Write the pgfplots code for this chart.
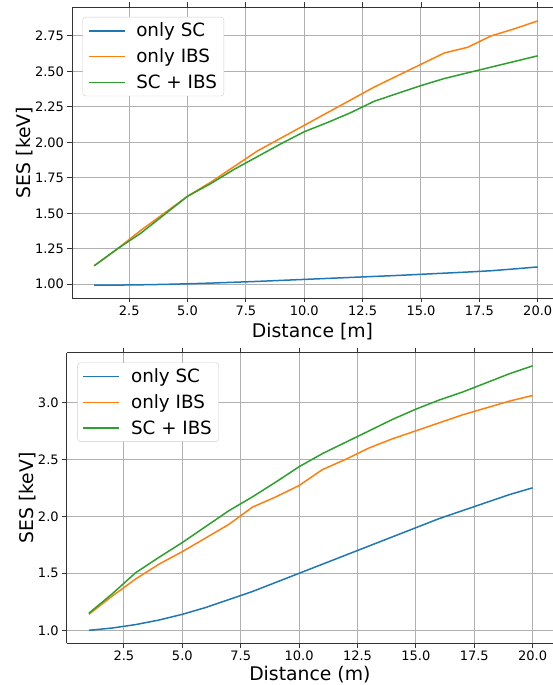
\documentclass[border=0pt]{standalone}
\usepackage{pgfplots}
\pgfplotsset{compat=1.18}
\usepackage{fontspec}
\setmainfont{DejaVu Sans}
\definecolor{tabblue}{HTML}{1F77B4}
\definecolor{taborange}{HTML}{FF7F0E}
\definecolor{tabgreen}{HTML}{2CA02C}
\definecolor{gridgray}{HTML}{B0B0B0}

\pgfplotsset{
  mystyle/.style={
    scale only axis,
    axis x line*=box, axis y line*=left,
    axis line style={black!80, line width=0.9pt},
    tick align=outside,
    major tick length=4.5pt,
    tick style={black!80, line width=0.9pt},
    grid=major,
    grid style={gridgray, line width=1.0pt},
    /pgf/number format/assume math mode=true,
    tick label style={font=\fontsize{13}{15}\selectfont},
    label style={font=\fontsize{18.8}{21}\selectfont},
    ylabel style={yshift=-5pt},
    legend style={font=\fontsize{18.3}{21}\selectfont, draw=black!20, rounded corners=3pt, fill=white, inner xsep=5pt, inner ysep=4pt, row sep=6.5pt, cells={anchor=west}, /tikz/every odd column/.append style={column sep=9pt}},
    legend image code/.code={\draw[mark repeat=2,mark phase=2,#1,line width=1.5pt] plot coordinates {(0pt,0pt) (18pt,0pt) (36pt,0pt)};},
    every axis plot/.append style={line width=1.5pt},
    xtick={2.5,5,7.5,10,12.5,15,17.5,20},
    xticklabel style={/pgf/number format/.cd, fixed, fixed zerofill, precision=1},
    xmin=0.05,
  }
}

\begin{document}
\begin{tikzpicture}[x=1pt,y=1pt]
\begin{axis}[mystyle,
  at={(72pt,387pt)}, anchor=south west,
  width=481pt, height=291pt,
  xmax=20.655, ymin=0.903, ymax=2.954,
  ytick={1,1.25,1.5,1.75,2,2.25,2.5,2.75},
  yticklabel style={/pgf/number format/.cd, fixed, fixed zerofill, precision=2},
  xlabel={Distance [m]}, ylabel={SES [keV]},
  legend style={at={(0.022,0.966)}, anchor=north west},
]
\addplot[tabblue] coordinates {(1,0.993) (2,0.994) (3,0.996) (4,0.999) (5,1.003) (6,1.008) (7,1.014) (8,1.020) (9,1.027) (10,1.034) (11,1.041) (12,1.048) (13,1.055) (14,1.062) (15,1.070) (16,1.078) (17,1.086) (18,1.095) (19,1.108) (20,1.122)};
\addlegendentry{only SC}
\addplot[taborange] coordinates {(1,1.13) (2,1.25) (3,1.38) (4,1.50) (5,1.62) (6,1.72) (7,1.83) (8,1.94) (9,2.03) (10,2.12) (11,2.21) (12,2.30) (13,2.39) (14,2.47) (15,2.55) (16,2.63) (17,2.67) (18,2.75) (19,2.80) (20,2.856)};
\addlegendentry{only IBS}
\addplot[tabgreen] coordinates {(1,1.13) (2,1.25) (3,1.36) (4,1.49) (5,1.62) (6,1.71) (7,1.81) (8,1.90) (9,1.99) (10,2.075) (11,2.14) (12,2.21) (13,2.29) (14,2.345) (15,2.40) (16,2.45) (17,2.49) (18,2.53) (19,2.57) (20,2.61)};
\addlegendentry{SC + IBS}
\end{axis}

\begin{axis}[mystyle,
  at={(66.7pt,41.7pt)}, anchor=south west,
  width=486.3pt, height=290.6pt,
  xmax=20.87, ymin=0.886, ymax=3.435,
  ytick={1,1.5,2,2.5,3},
  yticklabel style={/pgf/number format/.cd, fixed, fixed zerofill, precision=1},
  xlabel={Distance (m)}, ylabel={SES [keV]},
  xlabel style={yshift=2pt},
  legend style={at={(0.022,0.966)}, anchor=north west},
]
\addplot[tabblue] coordinates {(1,1.00) (2,1.02) (3,1.05) (4,1.09) (5,1.14) (6,1.20) (7,1.27) (8,1.34) (9,1.42) (10,1.50) (11,1.58) (12,1.66) (13,1.74) (14,1.82) (15,1.90) (16,1.98) (17,2.05) (18,2.12) (19,2.19) (20,2.25)};
\addlegendentry{only SC}
\addplot[taborange] coordinates {(1,1.14) (2,1.30) (3,1.45) (4,1.58) (5,1.69) (6,1.81) (7,1.93) (8,2.08) (9,2.17) (10,2.27) (11,2.41) (12,2.50) (13,2.60) (14,2.68) (15,2.75) (16,2.82) (17,2.89) (18,2.95) (19,3.01) (20,3.06)};
\addlegendentry{only IBS}
\addplot[tabgreen] coordinates {(1,1.15) (2,1.32) (3,1.505) (4,1.64) (5,1.77) (6,1.91) (7,2.05) (8,2.17) (9,2.30) (10,2.435) (11,2.55) (12,2.65) (13,2.75) (14,2.85) (15,2.94) (16,3.02) (17,3.09) (18,3.17) (19,3.25) (20,3.32)};
\addlegendentry{SC + IBS}
\end{axis}
\pgfresetboundingbox
\path[use as bounding box] (0,0) rectangle (553,685);
\end{tikzpicture}
\end{document}
